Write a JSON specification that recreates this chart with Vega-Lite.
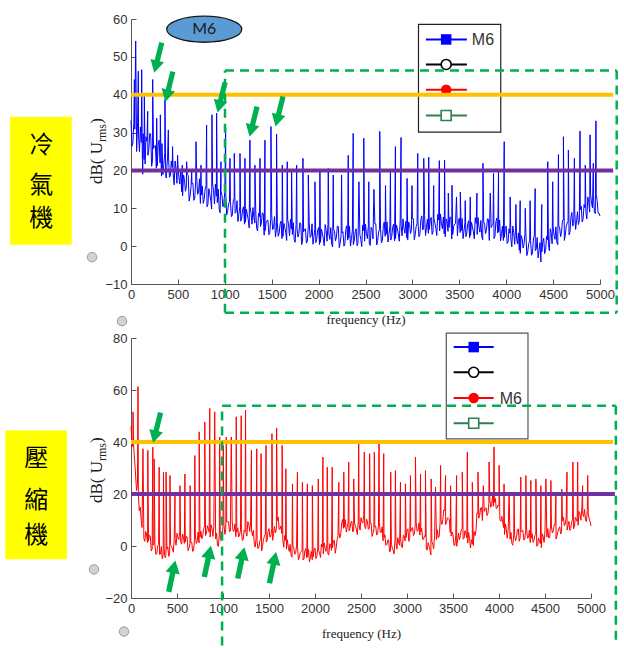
{
"$schema": "https://vega.github.io/schema/vega-lite/v6.json",
"background": "white",
"padding": {"left": 5, "top": 13, "right": 2, "bottom": 0},
"bounds": "flush",
"spacing": 54,
"config": {
  "view": {"stroke": null},
  "axis": {"grid": false, "domainColor": "#555", "tickColor": "#555", "tickSize": -5, "labelPadding": 9, "labelColor": "#333", "labelFont": "Liberation Sans Narrow, Arial Narrow, Liberation Sans, sans-serif", "labelFontSize": 13, "titleFont": "Liberation Serif, DejaVu Serif, serif", "titleFontWeight": "normal", "titleFontSize": 13, "titleColor": "#222", "labelFlush": false, "labelOverlap": false}
},
"datasets": {
"top": [
{"f":0,"v":33.2},{"f":20,"v":27.3},{"f":40,"v":30.9},{"f":60,"v":25},{"f":80,"v":29.6},{"f":100,"v":31.5},{"f":120,"v":25.2},{"f":140,"v":22.9},{"f":160,"v":28.9},{"f":180,"v":24},{"f":200,"v":29.8},{"f":220,"v":21.1},{"f":240,"v":25.8},{"f":260,"v":26.6},{"f":280,"v":21.2},{"f":300,"v":28},{"f":320,"v":22.6},{"f":340,"v":18.9},{"f":360,"v":24.7},{"f":380,"v":20.1},{"f":400,"v":23.8},{"f":420,"v":18.6},{"f":440,"v":20.8},{"f":460,"v":16.2},{"f":480,"v":20.4},{"f":500,"v":21.6},{"f":520,"v":16.4},{"f":540,"v":14.4},{"f":560,"v":18.8},{"f":580,"v":14.5},{"f":600,"v":18.9},{"f":620,"v":11.9},{"f":640,"v":15.7},{"f":660,"v":16.6},{"f":680,"v":12.7},{"f":700,"v":18.3},{"f":720,"v":14.2},{"f":740,"v":11.3},{"f":760,"v":15.9},{"f":780,"v":12.3},{"f":800,"v":15.9},{"f":820,"v":11},{"f":840,"v":13.8},{"f":860,"v":9.8},{"f":880,"v":14.6},{"f":900,"v":16.4},{"f":920,"v":11.5},{"f":940,"v":9.8},{"f":960,"v":14.5},{"f":980,"v":10.4},
{"f":1000,"v":14.3},{"f":1020,"v":8.2},{"f":1040,"v":11.2},{"f":1060,"v":11.8},{"f":1080,"v":8.2},{"f":1100,"v":12.7},{"f":1120,"v":9},{"f":1140,"v":6.5},{"f":1160,"v":10.4},{"f":1180,"v":7.4},{"f":1200,"v":10.4},{"f":1220,"v":6.3},{"f":1240,"v":8.4},{"f":1260,"v":4.8},{"f":1280,"v":8.7},{"f":1300,"v":10.2},{"f":1320,"v":6.1},{"f":1340,"v":4.7},{"f":1360,"v":8.7},{"f":1380,"v":5.2},{"f":1400,"v":8.8},{"f":1420,"v":2.9},{"f":1440,"v":6.2},{"f":1460,"v":6.9},{"f":1480,"v":3.6},{"f":1500,"v":8.3},{"f":1520,"v":4.7},{"f":1540,"v":2.4},{"f":1560,"v":6.3},{"f":1580,"v":3.5},{"f":1600,"v":6.6},{"f":1620,"v":2.6},{"f":1640,"v":4.9},{"f":1660,"v":1.5},{"f":1680,"v":5.6},{"f":1700,"v":7.1},{"f":1720,"v":3.1},{"f":1740,"v":1.7},{"f":1760,"v":5.7},{"f":1780,"v":2.4},{"f":1800,"v":6.2},{"f":1820,"v":0.4},{"f":1840,"v":3.8},{"f":1860,"v":4.6},{"f":1880,"v":1.3},{"f":1900,"v":6.1},{"f":1920,"v":2.7},{"f":1940,"v":0.5},{"f":1960,"v":4.6},{"f":1980,"v":1.8},
{"f":2000,"v":4.9},{"f":2020,"v":1},{"f":2040,"v":3.4},{"f":2060,"v":0.1},{"f":2080,"v":4.2},{"f":2100,"v":5.8},{"f":2120,"v":1.8},{"f":2140,"v":0.5},{"f":2160,"v":4.6},{"f":2180,"v":1.4},{"f":2200,"v":5.3},{"f":2220,"v":-0.4},{"f":2240,"v":2.9},{"f":2260,"v":3.8},{"f":2280,"v":0.6},{"f":2300,"v":5.4},{"f":2320,"v":2.1},{"f":2340,"v":0},{"f":2360,"v":4.1},{"f":2380,"v":1.4},{"f":2400,"v":4.6},{"f":2420,"v":0.7},{"f":2440,"v":3.1},{"f":2460,"v":-0.1},{"f":2480,"v":4.1},{"f":2500,"v":5.8},{"f":2520,"v":2},{"f":2540,"v":0.8},{"f":2560,"v":5},{"f":2580,"v":1.9},{"f":2600,"v":5.9},{"f":2620,"v":0.3},{"f":2640,"v":3.7},{"f":2660,"v":4.7},{"f":2680,"v":1.5},{"f":2700,"v":6.4},{"f":2720,"v":3.1},{"f":2740,"v":1.1},{"f":2760,"v":5.3},{"f":2780,"v":2.6},{"f":2800,"v":5.8},{"f":2820,"v":2},{"f":2840,"v":4.5},{"f":2860,"v":1.3},{"f":2880,"v":5.5},{"f":2900,"v":7.2},{"f":2920,"v":3.4},{"f":2940,"v":2.2},{"f":2960,"v":6.4},{"f":2980,"v":3.3},
{"f":3000,"v":7.3},{"f":3020,"v":1.7},{"f":3040,"v":5.2},{"f":3060,"v":6.2},{"f":3080,"v":3.1},{"f":3100,"v":8},{"f":3120,"v":4.8},{"f":3140,"v":2.8},{"f":3160,"v":7.1},{"f":3180,"v":4.4},{"f":3200,"v":7.6},{"f":3220,"v":3.7},{"f":3240,"v":6.1},{"f":3260,"v":2.8},{"f":3280,"v":6.9},{"f":3300,"v":8.5},{"f":3320,"v":4.6},{"f":3340,"v":3.2},{"f":3360,"v":7.2},{"f":3380,"v":3.9},{"f":3400,"v":7.7},{"f":3420,"v":1.9},{"f":3440,"v":5.2},{"f":3460,"v":6},{"f":3480,"v":2.7},{"f":3500,"v":7.4},{"f":3520,"v":4.1},{"f":3540,"v":2},{"f":3560,"v":6.2},{"f":3580,"v":3.5},{"f":3600,"v":6.7},{"f":3620,"v":2.8},{"f":3640,"v":5.2},{"f":3660,"v":1.9},{"f":3680,"v":6},{"f":3700,"v":7.6},{"f":3720,"v":3.7},{"f":3740,"v":2.4},{"f":3760,"v":6.5},{"f":3780,"v":3.3},{"f":3800,"v":7.2},{"f":3820,"v":1.5},{"f":3840,"v":4.9},{"f":3860,"v":5.8},{"f":3880,"v":2.6},{"f":3900,"v":7.4},{"f":3920,"v":3.8},{"f":3940,"v":1.4},{"f":3960,"v":5.3},{"f":3980,"v":2.3},
{"f":4000,"v":5.3},{"f":4020,"v":1.2},{"f":4040,"v":3.4},{"f":4060,"v":-0.2},{"f":4080,"v":3.6},{"f":4100,"v":4.8},{"f":4120,"v":0.6},{"f":4140,"v":-1.1},{"f":4160,"v":2.8},{"f":4180,"v":-0.5},{"f":4200,"v":3.3},{"f":4220,"v":-2.5},{"f":4240,"v":0.7},{"f":4260,"v":1.5},{"f":4280,"v":-1.8},{"f":4300,"v":2.8},{"f":4320,"v":-0.8},{"f":4340,"v":-3.1},{"f":4360,"v":0.9},{"f":4380,"v":-1.5},{"f":4400,"v":2.1},{"f":4420,"v":-1.1},{"f":4440,"v":1.7},{"f":4460,"v":-1.2},{"f":4480,"v":3.3},{"f":4500,"v":5.3},{"f":4520,"v":1.8},{"f":4540,"v":0.9},{"f":4560,"v":5.4},{"f":4580,"v":2.5},{"f":4600,"v":6.8},{"f":4620,"v":1.5},{"f":4640,"v":5.3},{"f":4660,"v":6.6},{"f":4680,"v":3.7},{"f":4700,"v":8.9},{"f":4720,"v":6},{"f":4740,"v":4.4},{"f":4760,"v":9.1},{"f":4780,"v":6.9},{"f":4800,"v":10.6},{"f":4820,"v":7.2},{"f":4840,"v":10.1},{"f":4860,"v":7.2},{"f":4880,"v":11.7},{"f":4900,"v":13.7},{"f":4920,"v":10.1},{"f":4940,"v":9.1},{"f":4960,"v":13.6},{"f":4980,"v":8.7},{"f":5000,"v":8},
{"f":10,"v":26.4},{"f":30,"v":32.6},{"f":70,"v":32.6},{"f":90,"v":25},{"f":110,"v":27.4},{"f":130,"v":29.7},{"f":150,"v":21.7},{"f":170,"v":27.7},{"f":190,"v":25.5},{"f":210,"v":29.6},{"f":230,"v":22.7},{"f":250,"v":26.4},{"f":270,"v":20.6},{"f":290,"v":26.7},{"f":310,"v":22},{"f":330,"v":27.1},{"f":350,"v":21.6},{"f":370,"v":18.9},{"f":390,"v":23.5},
{"f":410,"v":18.2},{"f":430,"v":22.5},{"f":450,"v":18.8},{"f":470,"v":22.5},{"f":490,"v":16.6},{"f":510,"v":18.3},{"f":530,"v":19.9},{"f":550,"v":13.3},{"f":570,"v":17.6},{"f":590,"v":15.6},{"f":610,"v":18.7},{"f":630,"v":13.2},{"f":650,"v":16.4},{"f":670,"v":12.1},{"f":690,"v":17.2},{"f":710,"v":13.7},{"f":730,"v":17.8},{"f":750,"v":13.5},{"f":770,"v":11.3},{"f":790,"v":15.1},{"f":810,"v":10.4},{"f":830,"v":15.2},{"f":850,"v":12.1},{"f":870,"v":16.5},{"f":890,"v":11.1},{"f":910,"v":13.2},{"f":930,"v":15.1},{"f":950,"v":8.8},{"f":970,"v":13.4},{"f":990,"v":11.5},
{"f":1010,"v":14},{"f":1030,"v":9.2},{"f":1050,"v":11.7},{"f":1070,"v":7.8},{"f":1090,"v":11.9},{"f":1110,"v":8.7},{"f":1130,"v":12},{"f":1150,"v":8.4},{"f":1170,"v":6.6},{"f":1190,"v":9.7},{"f":1210,"v":5.8},{"f":1230,"v":9.7},{"f":1250,"v":6.9},{"f":1270,"v":10.3},{"f":1290,"v":5.8},{"f":1310,"v":7.5},{"f":1330,"v":9.2},{"f":1350,"v":4},{"f":1370,"v":7.8},{"f":1390,"v":6.1},{"f":1410,"v":8.6},{"f":1430,"v":4.1},{"f":1450,"v":6.7},{"f":1470,"v":3},{"f":1490,"v":7.4},{"f":1510,"v":4.4},{"f":1530,"v":7.8},{"f":1550,"v":4.3},{"f":1570,"v":2.6},{"f":1590,"v":5.9},{"f":1610,"v":2},{"f":1630,"v":6},{"f":1650,"v":3.5},{"f":1670,"v":7.1},{"f":1690,"v":2.7},{"f":1710,"v":4.5},{"f":1730,"v":6.2},{"f":1750,"v":1},{"f":1770,"v":4.9},{"f":1790,"v":3.4},{"f":1810,"v":6},{"f":1830,"v":1.6},{"f":1850,"v":4.4},{"f":1870,"v":0.8},{"f":1890,"v":5.1},{"f":1910,"v":2.3},{"f":1930,"v":5.9},{"f":1950,"v":2.5},{"f":1970,"v":0.9},{"f":1990,"v":4.2},
{"f":2010,"v":0.4},{"f":2030,"v":4.5},{"f":2050,"v":2},{"f":2070,"v":5.7},{"f":2090,"v":1.3},{"f":2110,"v":3.2},{"f":2130,"v":4.9},{"f":2150,"v":-0.2},{"f":2170,"v":3.8},{"f":2190,"v":2.4},{"f":2210,"v":5.2},{"f":2230,"v":0.8},{"f":2250,"v":3.5},{"f":2270,"v":0},{"f":2290,"v":4.4},{"f":2310,"v":1.6},{"f":2330,"v":5.3},{"f":2350,"v":2},{"f":2370,"v":0.4},{"f":2390,"v":3.8},{"f":2410,"v":0.1},{"f":2450,"v":1.8},{"f":2470,"v":5.6},{"f":2490,"v":1.3},{"f":2510,"v":3.3},{"f":2530,"v":5.2},{"f":2550,"v":0.2},{"f":2570,"v":4.3},{"f":2610,"v":5.9},{"f":2630,"v":1.5},{"f":2650,"v":4.4},{"f":2670,"v":0.9},{"f":2690,"v":5.4},{"f":2710,"v":2.6},{"f":2730,"v":6.4},{"f":2750,"v":3.1},{"f":2770,"v":1.6},{"f":2790,"v":5},{"f":2810,"v":1.4},{"f":2830,"v":5.6},{"f":2850,"v":3.2},{"f":2870,"v":7},{"f":2890,"v":2.7},{"f":2910,"v":4.7},{"f":2930,"v":6.6},{"f":2950,"v":1.6},{"f":2970,"v":5.7},{"f":2990,"v":4.4},
{"f":3010,"v":7.3},{"f":3030,"v":3},{"f":3050,"v":5.9},{"f":3070,"v":2.5},{"f":3090,"v":7},{"f":3110,"v":4.3},{"f":3130,"v":8.1},{"f":3150,"v":4.9},{"f":3170,"v":3.4},{"f":3190,"v":6.8},{"f":3210,"v":3.1},{"f":3230,"v":7.2},{"f":3250,"v":4.7},{"f":3270,"v":8.4},{"f":3290,"v":4},{"f":3310,"v":5.9},{"f":3330,"v":7.7},{"f":3350,"v":2.5},{"f":3370,"v":6.4},{"f":3390,"v":4.9},{"f":3410,"v":7.6},{"f":3430,"v":3.1},{"f":3450,"v":5.8},{"f":3490,"v":6.5},{"f":3510,"v":3.6},{"f":3530,"v":7.3},{"f":3550,"v":4},{"f":3570,"v":2.5},{"f":3590,"v":5.9},{"f":3610,"v":2.2},{"f":3630,"v":6.3},{"f":3650,"v":3.8},{"f":3670,"v":7.5},{"f":3690,"v":3.1},{"f":3710,"v":5},{"f":3730,"v":6.8},{"f":3750,"v":1.7},{"f":3770,"v":5.7},{"f":3790,"v":4.3},{"f":3810,"v":7.1},{"f":3850,"v":5.5},{"f":3870,"v":2},{"f":3890,"v":6.4},{"f":3910,"v":3.5},{"f":3930,"v":6.9},{"f":3950,"v":3.3},{"f":3970,"v":1.5},{"f":3990,"v":4.6},
{"f":4010,"v":0.7},{"f":4030,"v":4.6},{"f":4050,"v":1.9},{"f":4070,"v":5.3},{"f":4090,"v":0.5},{"f":4110,"v":2.1},{"f":4130,"v":3.5},{"f":4150,"v":-1.9},{"f":4170,"v":2},{"f":4190,"v":0.5},{"f":4210,"v":3.2},{"f":4230,"v":-1.4},{"f":4250,"v":1.3},{"f":4270,"v":-2.4},{"f":4290,"v":1.9},{"f":4310,"v":-1.2},{"f":4330,"v":2.3},{"f":4350,"v":-1.2},{"f":4390,"v":1.1},{"f":4410,"v":-2},{"f":4430,"v":2.6},{"f":4450,"v":0.5},{"f":4470,"v":4.6},{"f":4490,"v":0.6},{"f":4510,"v":2.9},{"f":4530,"v":5.1},{"f":4550,"v":0.4},{"f":4570,"v":4.8},{"f":4590,"v":3.7},{"f":4610,"v":6.9},{"f":4630,"v":2.9},{"f":4650,"v":6.1},{"f":4670,"v":3},{"f":4690,"v":7.7},{"f":4710,"v":5.3},{"f":4730,"v":9.5},{"f":4750,"v":6.7},{"f":4770,"v":5.7},{"f":4790,"v":9.6},{"f":4810,"v":6.4},{"f":4830,"v":11},{"f":4850,"v":8.9},{"f":4870,"v":13},{"f":4890,"v":9},{"f":4910,"v":11.3},{"f":4930,"v":13.4},{"f":4950,"v":8.6},{"f":4970,"v":12},{"f":4990,"v":8.7},
{"f":125,"v":19},{"f":325,"v":18.5},{"f":375,"v":18},{"f":4370,"v":-4.2},
{"f":36,"v":44},{"f":50,"v":54.2},{"f":78,"v":46.2},{"f":114,"v":46.6},{"f":142,"v":40},{"f":178,"v":35.6},{"f":231,"v":44},{"f":274,"v":33.8},{"f":313,"v":34.7},{"f":362,"v":38.7},{"f":398,"v":30.7},{"f":443,"v":26.3},{"f":497,"v":24},{"f":547,"v":21.4},{"f":593,"v":22.3},{"f":647,"v":19.6},{"f":693,"v":27.6},{"f":746,"v":21.4},{"f":806,"v":32},{"f":863,"v":34.7},{"f":913,"v":35.1},{"f":959,"v":22.3},{"f":1009,"v":31.2},{"f":1055,"v":23.2},{"f":1101,"v":24.5},{"f":1162,"v":24.5},{"f":1215,"v":23.2},{"f":1268,"v":28},{"f":1321,"v":21.4},{"f":1375,"v":23.2},{"f":1428,"v":28},{"f":1492,"v":31.6},{"f":1552,"v":29.6},{"f":1613,"v":21.4},{"f":1666,"v":22.3},{"f":1712,"v":20.1},{"f":1766,"v":21.4},{"f":1833,"v":23.2},{"f":1890,"v":18.8},{"f":1961,"v":17},{"f":2014,"v":19.6},{"f":2103,"v":20.5},{"f":2156,"v":18.8},{"f":2245,"v":18.8},{"f":2316,"v":24},{"f":2369,"v":29.8},{"f":2430,"v":17},{"f":2482,"v":28.5},{"f":2535,"v":17},{"f":2590,"v":15},{"f":2652,"v":30.3},{"f":2713,"v":16},{"f":2766,"v":19.6},{"f":2819,"v":26.3},{"f":2879,"v":28.7},{"f":2943,"v":17.9},{"f":2996,"v":16},{"f":3057,"v":24.5},{"f":3121,"v":23.2},{"f":3174,"v":23.5},{"f":3227,"v":16},{"f":3287,"v":22.6},{"f":3343,"v":22.7},{"f":3383,"v":14},{"f":3422,"v":16.1},{"f":3470,"v":13},{"f":3511,"v":14.3},{"f":3563,"v":12},{"f":3617,"v":13},{"f":3688,"v":14},{"f":3752,"v":21.9},{"f":3830,"v":14},{"f":3865,"v":19.2},{"f":3918,"v":19.6},{"f":3979,"v":27.6},{"f":4042,"v":13},{"f":4103,"v":11},{"f":4149,"v":12},{"f":4203,"v":10},{"f":4255,"v":12},{"f":4309,"v":15.2},{"f":4379,"v":11},{"f":4443,"v":22.3},{"f":4496,"v":17},{"f":4557,"v":24.2},{"f":4610,"v":28.9},{"f":4663,"v":25.4},{"f":4727,"v":23.2},{"f":4787,"v":30.4},{"f":4843,"v":21.4},{"f":4894,"v":29.4},{"f":4929,"v":21.9},{"f":4957,"v":33.1}
],
"bot": [
{"f":0,"v":46.1},{"f":20,"v":38.2},{"f":40,"v":32.6},{"f":60,"v":21.3},{"f":80,"v":19.4},{"f":100,"v":15},{"f":120,"v":7.1},{"f":140,"v":2.8},{"f":160,"v":5.6},{"f":180,"v":1.3},{"f":200,"v":4.1},{"f":220,"v":-1.9},{"f":240,"v":0.4},{"f":260,"v":0.6},{"f":280,"v":-3},{"f":300,"v":0.5},{"f":320,"v":-3.1},{"f":340,"v":-4.9},{"f":360,"v":-1.2},{"f":380,"v":-3.6},{"f":400,"v":-0.3},{"f":420,"v":-3},{"f":440,"v":-0.2},{"f":460,"v":-2.4},{"f":480,"v":2.4},{"f":500,"v":4.9},{"f":520,"v":2.5},{"f":540,"v":1.6},{"f":560,"v":4.6},{"f":580,"v":1},{"f":600,"v":3.7},{"f":620,"v":-1.8},{"f":640,"v":0.9},{"f":660,"v":1.4},{"f":680,"v":-1.6},{"f":700,"v":3.8},{"f":720,"v":1.9},{"f":740,"v":1.2},{"f":760,"v":5.7},{"f":780,"v":4.1},{"f":800,"v":7.7},{"f":820,"v":4.9},{"f":840,"v":6.6},{"f":860,"v":3.4},{"f":880,"v":6.7},{"f":900,"v":7.4},{"f":920,"v":2.7},{"f":940,"v":0.3},{"f":960,"v":4.3},{"f":980,"v":2},
{"f":1000,"v":7.5},{"f":1020,"v":4.5},{"f":1040,"v":9.2},{"f":1060,"v":9.3},{"f":1080,"v":5.7},{"f":1100,"v":9.3},{"f":1120,"v":5.8},{"f":1140,"v":3.6},{"f":1160,"v":7},{"f":1180,"v":4.2},{"f":1200,"v":6.4},{"f":1220,"v":2.5},{"f":1240,"v":5.6},{"f":1260,"v":3.8},{"f":1280,"v":8.6},{"f":1300,"v":9.3},{"f":1320,"v":4},{"f":1340,"v":1.1},{"f":1360,"v":3},{"f":1380,"v":-1},{"f":1400,"v":1.9},{"f":1420,"v":-1.9},{"f":1440,"v":2.5},{"f":1460,"v":4.6},{"f":1480,"v":2.2},{"f":1500,"v":6.7},{"f":1520,"v":3.8},{"f":1540,"v":2.2},{"f":1560,"v":7.5},{"f":1580,"v":6.7},{"f":1600,"v":11.2},{"f":1620,"v":6.5},{"f":1640,"v":4.8},{"f":1660,"v":-0.5},{"f":1680,"v":2.1},{"f":1700,"v":2.4},{"f":1720,"v":-2.1},{"f":1740,"v":-3.6},{"f":1760,"v":-0.1},{"f":1780,"v":-3.2},{"f":1800,"v":0},{"f":1820,"v":-5.3},{"f":1840,"v":-2.5},{"f":1860,"v":-1.9},{"f":1880,"v":-5},{"f":1900,"v":-1},{"f":1920,"v":-4.2},{"f":1940,"v":-6.1},{"f":1960,"v":-2.1},{"f":1980,"v":-4.2},
{"f":2000,"v":-0.8},{"f":2020,"v":-4},{"f":2040,"v":-1.7},{"f":2060,"v":-4.4},{"f":2080,"v":-0.4},{"f":2100,"v":1.2},{"f":2120,"v":-2.1},{"f":2140,"v":-3},{"f":2160,"v":0.9},{"f":2180,"v":-1.7},{"f":2200,"v":2},{"f":2220,"v":-2.8},{"f":2240,"v":2.4},{"f":2260,"v":5.4},{"f":2280,"v":4.7},{"f":2300,"v":10.2},{"f":2320,"v":7.2},{"f":2340,"v":5.4},{"f":2360,"v":9.1},{"f":2380,"v":6.7},{"f":2400,"v":9.6},{"f":2420,"v":5.8},{"f":2440,"v":7.6},{"f":2460,"v":4.4},{"f":2480,"v":8.1},{"f":2500,"v":10.9},{"f":2520,"v":8.8},{"f":2540,"v":7.7},{"f":2560,"v":10.4},{"f":2580,"v":6.4},{"f":2600,"v":8.8},{"f":2620,"v":3.7},{"f":2640,"v":6.8},{"f":2660,"v":7.6},{"f":2680,"v":4.7},{"f":2700,"v":9},{"f":2720,"v":5.2},{"f":2740,"v":2},{"f":2760,"v":4.3},{"f":2780,"v":0.5},{"f":2800,"v":2.4},{"f":2820,"v":-2},{"f":2840,"v":-0.8},{"f":2860,"v":-3.1},{"f":2880,"v":1.3},{"f":2900,"v":3.2},{"f":2920,"v":0.3},{"f":2940,"v":-0.3},{"f":2960,"v":4.1},{"f":2980,"v":1.9},
{"f":3000,"v":6.2},{"f":3020,"v":1.8},{"f":3040,"v":5.6},{"f":3060,"v":7.1},{"f":3080,"v":4.7},{"f":3100,"v":9},{"f":3120,"v":6},{"f":3140,"v":4.2},{"f":3160,"v":6.8},{"f":3180,"v":2.6},{"f":3200,"v":3.7},{"f":3220,"v":-1.6},{"f":3240,"v":0},{"f":3260,"v":-3.4},{"f":3280,"v":0.6},{"f":3300,"v":4},{"f":3320,"v":2.5},{"f":3340,"v":3.2},{"f":3360,"v":9.1},{"f":3380,"v":8.3},{"f":3400,"v":13.9},{"f":3420,"v":8.2},{"f":3440,"v":10.8},{"f":3460,"v":10.4},{"f":3480,"v":3.8},{"f":3500,"v":4.4},{"f":3520,"v":0.2},{"f":3540,"v":-0.1},{"f":3560,"v":5},{"f":3580,"v":4},{"f":3600,"v":6.8},{"f":3620,"v":3},{"f":3640,"v":4.7},{"f":3660,"v":1.1},{"f":3680,"v":2.9},{"f":3700,"v":2.4},{"f":3720,"v":0.2},{"f":3740,"v":4},{"f":3760,"v":12.7},{"f":3780,"v":10.7},{"f":3800,"v":14.6},{"f":3820,"v":9.8},{"f":3840,"v":13.3},{"f":3860,"v":14.7},{"f":3880,"v":12.6},{"f":3900,"v":17.7},{"f":3920,"v":15.8},{"f":3940,"v":15.3},{"f":3960,"v":18.3},{"f":3980,"v":14.7},
{"f":4000,"v":15.4},{"f":4020,"v":9.5},{"f":4040,"v":9.2},{"f":4060,"v":4.4},{"f":4080,"v":6.3},{"f":4100,"v":6.5},{"f":4120,"v":2.6},{"f":4140,"v":1},{"f":4160,"v":4.4},{"f":4180,"v":2},{"f":4200,"v":6.2},{"f":4220,"v":1.8},{"f":4240,"v":5.5},{"f":4260,"v":5.9},{"f":4280,"v":2.6},{"f":4300,"v":6.5},{"f":4320,"v":3.3},{"f":4340,"v":1.3},{"f":4360,"v":4.8},{"f":4380,"v":2.2},{"f":4400,"v":4.4},{"f":4420,"v":0.2},{"f":4440,"v":1.8},{"f":4460,"v":-0.6},{"f":4480,"v":3.7},{"f":4500,"v":5.8},{"f":4520,"v":3.4},{"f":4540,"v":3.2},{"f":4560,"v":8},{"f":4580,"v":5},{"f":4600,"v":8.2},{"f":4620,"v":2.7},{"f":4640,"v":5.6},{"f":4660,"v":7.4},{"f":4680,"v":5.6},{"f":4700,"v":11},{"f":4720,"v":8.3},{"f":4740,"v":6.1},{"f":4760,"v":9.5},{"f":4780,"v":6.7},{"f":4800,"v":10.3},{"f":4820,"v":7.5},{"f":4840,"v":10.3},{"f":4860,"v":8},{"f":4880,"v":12.3},{"f":4900,"v":14.2},{"f":4920,"v":11.3},{"f":4940,"v":10.1},{"f":4960,"v":13.6},{"f":4980,"v":10.4},{"f":5000,"v":7.7},
{"f":10,"v":39.8},{"f":30,"v":37.5},{"f":50,"v":27.3},{"f":70,"v":23.6},{"f":90,"v":13.6},{"f":110,"v":10.4},{"f":150,"v":1.8},{"f":170,"v":4.2},{"f":190,"v":1.9},{"f":210,"v":3.7},{"f":230,"v":-1.2},{"f":250,"v":0.6},{"f":270,"v":-3.2},{"f":290,"v":0},{"f":310,"v":-3.2},{"f":330,"v":-0.2},{"f":350,"v":-3.1},{"f":370,"v":-4.5},{"f":390,"v":-1.2},{"f":410,"v":-4},{"f":430,"v":0.5},{"f":450,"v":-1.1},{"f":470,"v":3.2},{"f":490,"v":0.3},{"f":510,"v":3.2},{"f":530,"v":5.5},{"f":550,"v":0.7},{"f":570,"v":3.6},{"f":590,"v":1.5},{"f":610,"v":3.5},{"f":630,"v":-0.9},{"f":650,"v":1.3},{"f":670,"v":-2.1},{"f":690,"v":2.4},{"f":710,"v":1},{"f":730,"v":5.4},{"f":750,"v":3.4},{"f":770,"v":2.8},{"f":790,"v":6.7},{"f":810,"v":4},{"f":830,"v":7.8},{"f":850,"v":5.3},{"f":870,"v":8.2},{"f":890,"v":3.7},{"f":930,"v":4.9},{"f":950,"v":-0.2},{"f":970,"v":3.9},{"f":990,"v":3.9},
{"f":1010,"v":8.6},{"f":1030,"v":6.4},{"f":1050,"v":9.4},{"f":1070,"v":5.6},{"f":1110,"v":5.7},{"f":1130,"v":8.5},{"f":1150,"v":5.3},{"f":1170,"v":3.5},{"f":1190,"v":6.1},{"f":1210,"v":2.1},{"f":1230,"v":6.1},{"f":1250,"v":5},{"f":1270,"v":9.4},{"f":1290,"v":5.6},{"f":1310,"v":6.1},{"f":1330,"v":6},{"f":1350,"v":-0.4},{"f":1370,"v":1.8},{"f":1390,"v":-0.4},{"f":1410,"v":2.6},{"f":1430,"v":-0.2},{"f":1450,"v":3.7},{"f":1470,"v":1.5},{"f":1490,"v":5.7},{"f":1510,"v":3.4},{"f":1530,"v":6.8},{"f":1550,"v":4.8},{"f":1570,"v":5},{"f":1590,"v":9.7},{"f":1610,"v":6.5},{"f":1630,"v":7.7},{"f":1650,"v":2.4},{"f":1670,"v":4},{"f":1690,"v":-1.2},{"f":1710,"v":-0.4},{"f":1730,"v":0.6},{"f":1750,"v":-4.3},{"f":1770,"v":-0.9},{"f":1790,"v":-2.5},{"f":1810,"v":-0.1},{"f":1830,"v":-4.4},{"f":1850,"v":-2.1},{"f":1870,"v":-5.4},{"f":1890,"v":-1.8},{"f":1910,"v":-4.5},{"f":1930,"v":-1.4},{"f":1950,"v":-4.2},{"f":1970,"v":-5.3},{"f":1990,"v":-1.8},
{"f":2010,"v":-4.8},{"f":2030,"v":-0.8},{"f":2050,"v":-2.8},{"f":2070,"v":0.8},{"f":2090,"v":-3},{"f":2110,"v":-1},{"f":2130,"v":0.9},{"f":2150,"v":-3.5},{"f":2170,"v":0.4},{"f":2190,"v":-0.7},{"f":2210,"v":2.2},{"f":2230,"v":-0.7},{"f":2250,"v":4},{"f":2270,"v":3.1},{"f":2290,"v":8.7},{"f":2310,"v":6.8},{"f":2330,"v":10.1},{"f":2350,"v":7.2},{"f":2370,"v":5.8},{"f":2390,"v":8.9},{"f":2410,"v":5.4},{"f":2430,"v":8.8},{"f":2450,"v":6.3},{"f":2470,"v":9.4},{"f":2490,"v":6.1},{"f":2510,"v":9.3},{"f":2530,"v":11.7},{"f":2550,"v":6.6},{"f":2570,"v":9.2},{"f":2590,"v":6.8},{"f":2610,"v":8.8},{"f":2630,"v":4.8},{"f":2650,"v":7.3},{"f":2670,"v":4.2},{"f":2690,"v":8.1},{"f":2710,"v":5.2},{"f":2730,"v":7.4},{"f":2750,"v":3.1},{"f":2770,"v":0.3},{"f":2790,"v":2.2},{"f":2810,"v":-2.2},{"f":2830,"v":0.7},{"f":2850,"v":-1.7},{"f":2870,"v":2.3},{"f":2890,"v":-1.2},{"f":2910,"v":1.2},{"f":2930,"v":3.4},{"f":2950,"v":-0.6},{"f":2970,"v":3.8},{"f":2990,"v":3.2},
{"f":3010,"v":6.6},{"f":3030,"v":3.3},{"f":3050,"v":6.5},{"f":3070,"v":4},{"f":3090,"v":8.1},{"f":3110,"v":5.6},{"f":3130,"v":8.9},{"f":3150,"v":5.5},{"f":3170,"v":2.6},{"f":3190,"v":3.9},{"f":3210,"v":-1.3},{"f":3230,"v":1.3},{"f":3250,"v":-1.5},{"f":3270,"v":1.8},{"f":3290,"v":-1.1},{"f":3330,"v":6.3},{"f":3350,"v":3.7},{"f":3370,"v":9.5},{"f":3390,"v":10.3},{"f":3410,"v":13.6},{"f":3430,"v":9.1},{"f":3450,"v":10.7},{"f":3470,"v":5.2},{"f":3490,"v":5.4},{"f":3510,"v":0.4},{"f":3530,"v":3.9},{"f":3550,"v":2.4},{"f":3570,"v":2.4},{"f":3590,"v":6.2},{"f":3610,"v":2.6},{"f":3630,"v":5.9},{"f":3650,"v":3.2},{"f":3670,"v":5.2},{"f":3690,"v":-0.8},{"f":3710,"v":0.8},{"f":3730,"v":5.5},{"f":3750,"v":5.9},{"f":3770,"v":12.5},{"f":3790,"v":11.8},{"f":3810,"v":14.8},{"f":3850,"v":14.1},{"f":3870,"v":11.7},{"f":3890,"v":16.4},{"f":3910,"v":14.9},{"f":3930,"v":19.4},{"f":3950,"v":16.8},{"f":3970,"v":14.4},{"f":3990,"v":15.8},
{"f":4010,"v":10.1},{"f":4030,"v":11.4},{"f":4050,"v":7.1},{"f":4070,"v":8.5},{"f":4090,"v":3},{"f":4130,"v":5.2},{"f":4150,"v":0.3},{"f":4170,"v":4},{"f":4190,"v":3.3},{"f":4210,"v":6.6},{"f":4230,"v":3.2},{"f":4250,"v":5.8},{"f":4270,"v":2.3},{"f":4290,"v":5.8},{"f":4310,"v":3},{"f":4330,"v":6.1},{"f":4350,"v":3},{"f":4370,"v":1.4},{"f":4390,"v":4.1},{"f":4410,"v":-0.1},{"f":4430,"v":3.1},{"f":4450,"v":0.9},{"f":4470,"v":4.7},{"f":4490,"v":1.4},{"f":4530,"v":6.7},{"f":4550,"v":3.2},{"f":4570,"v":7.3},{"f":4590,"v":5.8},{"f":4610,"v":8},{"f":4630,"v":3.7},{"f":4650,"v":6.6},{"f":4670,"v":4.6},{"f":4690,"v":9.6},{"f":4710,"v":7.8},{"f":4730,"v":11},{"f":4750,"v":7.8},{"f":4770,"v":6},{"f":4790,"v":9.3},{"f":4810,"v":6.6},{"f":4830,"v":11},{"f":4850,"v":9.4},{"f":4870,"v":13.3},{"f":4890,"v":9.9},{"f":4910,"v":12.2},{"f":4930,"v":14.1},{"f":4950,"v":9.4},{"f":4970,"v":12.8},{"f":4990,"v":9.4},
{"f":22,"v":51.6},{"f":76,"v":61.3},{"f":130,"v":37.4},{"f":183,"v":36.8},{"f":237,"v":38},{"f":252,"v":33.5},{"f":306,"v":30.3},{"f":353,"v":28.4},{"f":381,"v":28.4},{"f":424,"v":27.1},{"f":478,"v":19.4},{"f":532,"v":23.2},{"f":586,"v":27.7},{"f":643,"v":23.2},{"f":694,"v":34.8},{"f":741,"v":43.9},{"f":802,"v":47.7},{"f":856,"v":52.9},{"f":910,"v":51.6},{"f":964,"v":41.9},{"f":1003,"v":38.7},{"f":1036,"v":41.9},{"f":1090,"v":41.9},{"f":1144,"v":49.7},{"f":1198,"v":50.1},{"f":1245,"v":52.3},{"f":1309,"v":36.8},{"f":1367,"v":37.4},{"f":1414,"v":35.5},{"f":1468,"v":38.7},{"f":1532,"v":43.2},{"f":1583,"v":45.4},{"f":1643,"v":38.7},{"f":1683,"v":29.7},{"f":1755,"v":23.9},{"f":1809,"v":28.4},{"f":1863,"v":24.5},{"f":1917,"v":23.9},{"f":1971,"v":23.2},{"f":2036,"v":25.8},{"f":2086,"v":34.2},{"f":2133,"v":30.3},{"f":2187,"v":30.3},{"f":2259,"v":24.5},{"f":2313,"v":28.4},{"f":2367,"v":32.3},{"f":2421,"v":25.8},{"f":2475,"v":39.4},{"f":2536,"v":36.1},{"f":2594,"v":35.5},{"f":2645,"v":36.1},{"f":2696,"v":39.4},{"f":2747,"v":35.5},{"f":2823,"v":28.4},{"f":2874,"v":29},{"f":2929,"v":24.5},{"f":2983,"v":23.9},{"f":3038,"v":27.1},{"f":3092,"v":34.2},{"f":3147,"v":27.7},{"f":3201,"v":29},{"f":3263,"v":25.8},{"f":3310,"v":22.6},{"f":3365,"v":31},{"f":3419,"v":27.1},{"f":3474,"v":23.2},{"f":3539,"v":27.1},{"f":3601,"v":28.4},{"f":3656,"v":36.1},{"f":3710,"v":24.5},{"f":3772,"v":28.4},{"f":3830,"v":23.2},{"f":3892,"v":32.3},{"f":3946,"v":38.1},{"f":4001,"v":31},{"f":4055,"v":23.9},{"f":4110,"v":20.6},{"f":4164,"v":20},{"f":4237,"v":26.5},{"f":4292,"v":27.1},{"f":4346,"v":25.2},{"f":4401,"v":25.8},{"f":4455,"v":23.2},{"f":4510,"v":25.8},{"f":4564,"v":25.2},{"f":4619,"v":20.6},{"f":4683,"v":21.9},{"f":4739,"v":28.4},{"f":4803,"v":32.3},{"f":4855,"v":32.3},{"f":4909,"v":23.2},{"f":4964,"v":27.1}
]
},
"vconcat": [
{
  "width": 469, "height": 265,
  "encoding": {
    "x": {"field": "f", "type": "quantitative", "scale": {"domain": [0, 5000], "nice": false, "zero": false}, "axis": {"values": [0,500,1000,1500,2000,2500,3000,3500,4000,4500,5000], "format": "d", "title": "frequency (Hz)", "titlePadding": 12}},
    "y": {"field": "v", "type": "quantitative", "scale": {"domain": [-10, 60], "nice": false, "zero": false}, "axis": {"values": [-10,0,10,20,30,40,50,60], "title": null}}
  },
  "layer": [
    {"data": {"values": [{"f": -1289, "f2": -632, "v": 34.2, "v2": 0.4}]}, "mark": {"type": "rect", "fill": "#FFFF00"}, "encoding": {"x2": {"field": "f2"}, "y2": {"field": "v2"}}},
    {"data": {"values": [{"f": -958, "v": 26.5, "t": "冷"}, {"f": -958, "v": 16, "t": "氣"}, {"f": -958, "v": 7.2, "t": "機"}]}, "mark": {"type": "text", "font": "Noto Sans CJK TC", "fontSize": 24, "color": "#000", "align": "center", "baseline": "middle"}, "encoding": {"text": {"field": "t"}}},
    {"data": {"values": [{"f": -309, "v": 27.5, "t": "dB( U"}]}, "mark": {"type": "text", "font": "Liberation Serif", "fontSize": 17, "color": "#222", "align": "right", "baseline": "alphabetic", "angle": 270}, "encoding": {"text": {"field": "t"}}},
    {"data": {"values": [{"f": -309, "v": 27.5, "t": "rms"}]}, "mark": {"type": "text", "font": "Liberation Serif", "fontSize": 12, "color": "#222", "align": "left", "baseline": "alphabetic", "angle": 270, "dy": 4}, "encoding": {"text": {"field": "t"}}},
    {"data": {"values": [{"f": -309, "v": 32.3, "t": ")"}]}, "mark": {"type": "text", "font": "Liberation Serif", "fontSize": 17, "color": "#222", "align": "left", "baseline": "alphabetic", "angle": 270}, "encoding": {"text": {"field": "t"}}},
    {"data": {"values": [{"f": -415, "v": -2.9}, {"f": -96, "v": -19.8}]}, "mark": {"type": "point", "filled": true, "fill": "#d2d2d2", "stroke": "#9a9a9a", "strokeWidth": 1, "size": 90, "opacity": 1}},
    {"data": {"name": "top"}, "mark": {"type": "line", "color": "#0000FF", "strokeWidth": 1}},
    {"data": {"values": [{"f": 3065, "f2": 3942, "v": 58.6, "v2": 30.1}]}, "mark": {"type": "rect", "fill": null, "fillOpacity": 0, "stroke": "#222", "strokeWidth": 1.2}, "encoding": {"x2": {"field": "f2"}, "y2": {"field": "v2"}}},
    {"data": {"values": [{"f": 3144, "f2": 3581, "v": 54.6, "s": "a"}, {"f": 3144, "f2": 3581, "v": 48, "s": "b"}, {"f": 3144, "f2": 3581, "v": 41.3, "s": "c"}, {"f": 3144, "f2": 3581, "v": 34.5, "s": "d"}]}, "mark": {"type": "rule", "strokeWidth": 2}, "encoding": {"x2": {"field": "f2"}, "color": {"field": "s", "type": "nominal", "scale": {"domain": ["a","b","c","d"], "range": ["#0000FF","#000000","#FF0000","#2E8050"]}, "legend": null}}},
    {"data": {"values": [{"f": 3360, "v": 54.6, "s": "a"}, {"f": 3360, "v": 41.3, "s": "c"}]}, "mark": {"type": "point", "filled": true, "opacity": 1, "size": 110}, "encoding": {"color": {"field": "s", "type": "nominal", "legend": null}, "shape": {"field": "s", "type": "nominal", "scale": {"domain": ["a","b","c","d"], "range": ["square","circle","circle","square"]}, "legend": null}}},
    {"data": {"values": [{"f": 3360, "v": 48, "s": "b"}, {"f": 3360, "v": 34.5, "s": "d"}]}, "mark": {"type": "point", "filled": false, "opacity": 1, "size": 100, "strokeWidth": 1.6, "fill": "white"}, "encoding": {"color": {"field": "s", "type": "nominal", "legend": null}, "shape": {"field": "s", "type": "nominal", "legend": null}}},
    {"data": {"values": [{"f": 3634, "v": 54.4, "t": "M6"}]}, "mark": {"type": "text", "align": "left", "baseline": "middle", "font": "Liberation Sans Narrow, Arial Narrow, Liberation Sans, sans-serif", "fontSize": 16, "color": "#333"}, "encoding": {"text": {"field": "t"}}},
    {"data": {"values": [{"f": 0, "f2": 5140, "v": 40}]}, "mark": {"type": "rule", "color": "#FFC000", "strokeWidth": 4}, "encoding": {"x2": {"field": "f2"}}},
    {"data": {"values": [{"f": 0, "f2": 5140, "v": 20}]}, "mark": {"type": "rule", "color": "#7030A0", "strokeWidth": 4}, "encoding": {"x2": {"field": "f2"}}},
    {"data": {"values": [{"f": 1002, "f2": 1002, "v": -17.6, "v2": 46.4}, {"f": 1002, "f2": 5178, "v": 46.4, "v2": 46.4}, {"f": 5178, "f2": 5178, "v": 46.4, "v2": -17.6}, {"f": 1002, "f2": 5178, "v": -17.6, "v2": -17.6}]}, "mark": {"type": "rule", "color": "#00B050", "strokeWidth": 2.5, "strokeDash": [9, 6]}, "encoding": {"x2": {"field": "f2"}, "y2": {"field": "v2"}}},
    {"data": {"values": [{"f": 781, "v": 57.3}]}, "mark": {"type": "point", "shape": "M -1 0 A 1 0.347 0 1 1 1 0 A 1 0.347 0 1 1 -1 0 Z", "filled": true, "fill": "#5B9BD5", "stroke": "#1a1a1a", "strokeWidth": 1.3, "size": 5625, "opacity": 1}},
    {"data": {"values": [{"f": 781, "v": 57.3, "t": "M6"}]}, "mark": {"type": "text", "align": "center", "baseline": "middle", "font": "Lato", "fontSize": 16, "color": "#1a1a1a"}, "encoding": {"text": {"field": "t"}}},
    {"data": {"values": [{"f": 288, "v": 49.8}, {"f": 406, "v": 42.1}, {"f": 963, "v": 39.3}, {"f": 1304, "v": 32.9}, {"f": 1581, "v": 35.6}]}, "mark": {"type": "point", "shape": "M -0.17 -1 L 0.17 -1 L 0.17 0.2 L 0.45 0.2 L 0 1 L -0.45 0.2 L -0.17 0.2 Z", "filled": true, "fill": "#00B050", "strokeWidth": 0, "size": 961, "angle": 14, "opacity": 1}}
  ]
},
{
  "width": 460, "height": 260,
  "encoding": {
    "x": {"field": "f", "type": "quantitative", "scale": {"domain": [0, 5000], "nice": false, "zero": false}, "axis": {"values": [0,500,1000,1500,2000,2500,3000,3500,4000,4500,5000], "format": "d", "title": "frequency (Hz)", "titlePadding": 12}},
    "y": {"field": "v", "type": "quantitative", "scale": {"domain": [-20, 80], "nice": false, "zero": false}, "axis": {"values": [-20,0,20,40,60,80], "title": null}}
  },
  "layer": [
    {"data": {"values": [{"f": -1366, "f2": -696, "v": 44.4, "v2": -5.1}]}, "mark": {"type": "rect", "fill": "#FFFF00"}, "encoding": {"x2": {"field": "f2"}, "y2": {"field": "v2"}}},
    {"data": {"values": [{"f": -1029, "v": 33.5, "t": "壓"}, {"f": -1029, "v": 17.4, "t": "縮"}, {"f": -1029, "v": 3.9, "t": "機"}]}, "mark": {"type": "text", "font": "Noto Sans CJK TC", "fontSize": 24, "color": "#000", "align": "center", "baseline": "middle"}, "encoding": {"text": {"field": "t"}}},
    {"data": {"values": [{"f": -315, "v": 32.7, "t": "dB( U"}]}, "mark": {"type": "text", "font": "Liberation Serif", "fontSize": 17, "color": "#222", "align": "right", "baseline": "alphabetic", "angle": 270}, "encoding": {"text": {"field": "t"}}},
    {"data": {"values": [{"f": -315, "v": 32.7, "t": "rms"}]}, "mark": {"type": "text", "font": "Liberation Serif", "fontSize": 12, "color": "#222", "align": "left", "baseline": "alphabetic", "angle": 270, "dy": 4}, "encoding": {"text": {"field": "t"}}},
    {"data": {"values": [{"f": -315, "v": 39.6, "t": ")"}]}, "mark": {"type": "text", "font": "Liberation Serif", "fontSize": 17, "color": "#222", "align": "left", "baseline": "alphabetic", "angle": 270}, "encoding": {"text": {"field": "t"}}},
    {"data": {"values": [{"f": -402, "v": -9}, {"f": -76, "v": -32.9}]}, "mark": {"type": "point", "filled": true, "fill": "#d2d2d2", "stroke": "#9a9a9a", "strokeWidth": 1, "size": 90, "opacity": 1}},
    {"data": {"name": "bot"}, "mark": {"type": "line", "color": "#FF0000", "strokeWidth": 1}},
    {"data": {"values": [{"f": 3427, "f2": 4315, "v": 81.9, "v2": 41.2}]}, "mark": {"type": "rect", "fill": null, "fillOpacity": 0, "stroke": "#555", "strokeWidth": 1.2}, "encoding": {"x2": {"field": "f2"}, "y2": {"field": "v2"}}},
    {"data": {"values": [{"f": 3507, "f2": 3942, "v": 76.5, "s": "a"}, {"f": 3507, "f2": 3942, "v": 66.8, "s": "b"}, {"f": 3507, "f2": 3942, "v": 56.9, "s": "c"}, {"f": 3507, "f2": 3942, "v": 47.2, "s": "d"}]}, "mark": {"type": "rule", "strokeWidth": 2}, "encoding": {"x2": {"field": "f2"}, "color": {"field": "s", "type": "nominal", "scale": {"domain": ["a","b","c","d"], "range": ["#0000FF","#000000","#FF0000","#2E8050"]}, "legend": null}}},
    {"data": {"values": [{"f": 3725, "v": 76.5, "s": "a"}, {"f": 3725, "v": 56.9, "s": "c"}]}, "mark": {"type": "point", "filled": true, "opacity": 1, "size": 110}, "encoding": {"color": {"field": "s", "type": "nominal", "legend": null}, "shape": {"field": "s", "type": "nominal", "scale": {"domain": ["a","b","c","d"], "range": ["square","circle","circle","square"]}, "legend": null}}},
    {"data": {"values": [{"f": 3725, "v": 66.8, "s": "b"}, {"f": 3725, "v": 47.2, "s": "d"}]}, "mark": {"type": "point", "filled": false, "opacity": 1, "size": 100, "strokeWidth": 1.6, "fill": "white"}, "encoding": {"color": {"field": "s", "type": "nominal", "legend": null}, "shape": {"field": "s", "type": "nominal", "legend": null}}},
    {"data": {"values": [{"f": 4007, "v": 56.5, "t": "M6"}]}, "mark": {"type": "text", "align": "left", "baseline": "middle", "font": "Liberation Sans Narrow, Arial Narrow, Liberation Sans, sans-serif", "fontSize": 16, "color": "#333"}, "encoding": {"text": {"field": "t"}}},
    {"data": {"values": [{"f": 0, "f2": 5240, "v": 40}]}, "mark": {"type": "rule", "color": "#FFC000", "strokeWidth": 4}, "encoding": {"x2": {"field": "f2"}}},
    {"data": {"values": [{"f": 0, "f2": 5260, "v": 20}]}, "mark": {"type": "rule", "color": "#7030A0", "strokeWidth": 4}, "encoding": {"x2": {"field": "f2"}}},
    {"data": {"values": [{"f": 990, "f2": 990, "v": -38.3, "v2": 53.9}, {"f": 990, "f2": 5270, "v": 53.9, "v2": 53.9}, {"f": 5270, "f2": 5270, "v": 53.9, "v2": -38.3}]}, "mark": {"type": "rule", "color": "#00B050", "strokeWidth": 2.5, "strokeDash": [9, 6]}, "encoding": {"x2": {"field": "f2"}, "y2": {"field": "v2"}}},
    {"data": {"values": [{"f": 281, "v": 45.5}]}, "mark": {"type": "point", "shape": "M -0.17 -1 L 0.17 -1 L 0.17 0.2 L 0.45 0.2 L 0 1 L -0.45 0.2 L -0.17 0.2 Z", "filled": true, "fill": "#00B050", "strokeWidth": 0, "size": 961, "angle": 14, "opacity": 1}},
    {"data": {"values": [{"f": 446, "v": -11.6}, {"f": 833, "v": -5.9}, {"f": 1196, "v": -6.5}, {"f": 1541, "v": -8.3}]}, "mark": {"type": "point", "shape": "M -0.17 -1 L 0.17 -1 L 0.17 0.2 L 0.45 0.2 L 0 1 L -0.45 0.2 L -0.17 0.2 Z", "filled": true, "fill": "#00B050", "strokeWidth": 0, "size": 1024, "angle": 192, "opacity": 1}}
  ]
}
]
}
